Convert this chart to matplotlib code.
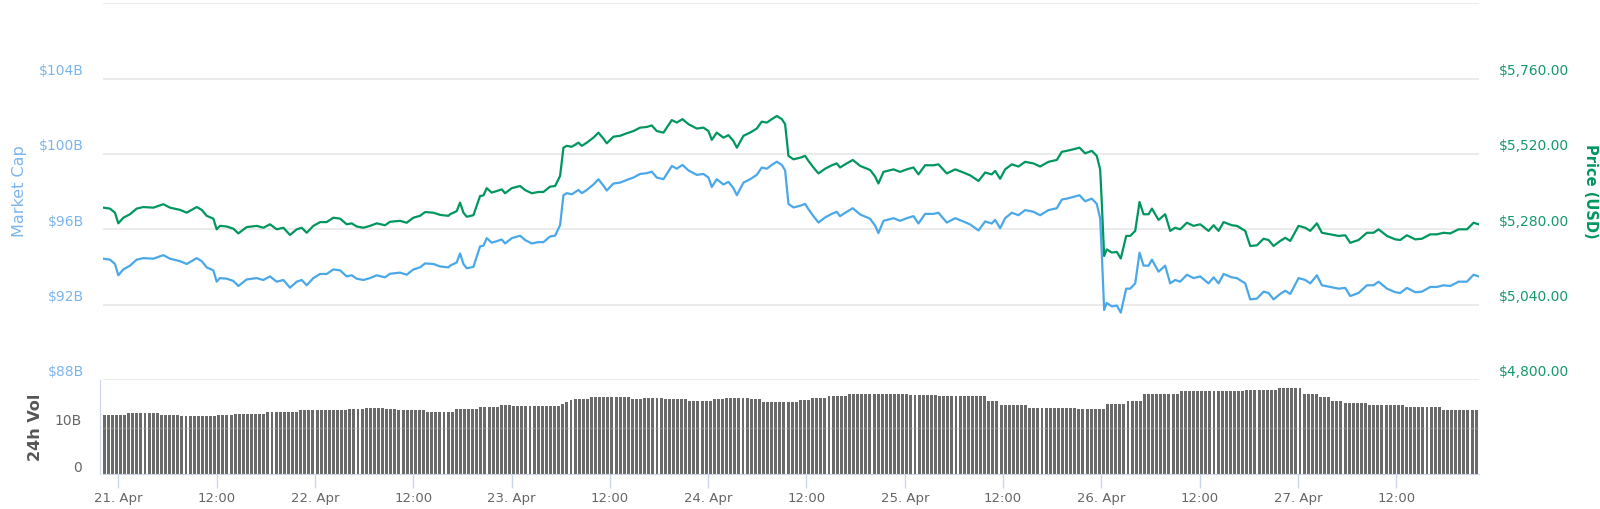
import numpy as np
import matplotlib
matplotlib.use("Agg")
import matplotlib.pyplot as plt
from matplotlib.transforms import ScaledTranslation, blended_transform_factory

# ---------------- data (hours since 21 Apr 00:00) ----------------
price_hours = [
    -1.84, -1.03, -0.42, -0.01, 0.60, 1.42, 2.23, 3.04, 4.27, 5.49, 6.30, 7.52, 8.34, 9.56, 10.17,
    10.78, 11.59, 12.00, 12.40, 13.22, 14.03, 14.64, 15.66, 16.88, 17.70, 18.51, 19.32, 20.14, 20.95,
    21.77, 22.38, 22.99, 23.80, 24.62, 25.43, 26.24, 27.06, 27.87, 28.48, 29.09, 29.90, 30.72, 31.53,
    32.55, 33.16, 34.38, 35.20, 36.01, 36.82, 37.44, 38.45, 39.27, 40.29,
    40.49, 41.30, 41.71, 42.12, 42.53, 43.34, 44.15, 44.56, 44.97, 45.58, 46.19, 46.80, 47.21, 48.02,
    49.04, 49.65, 50.46, 51.28, 51.89, 52.70, 53.31, 53.92, 54.33, 54.73, 55.35, 56.16, 56.57, 57.18,
    57.99, 58.60, 59.21, 59.62, 60.43, 61.25, 62.06, 62.88, 63.69, 64.50, 65.11, 65.72, 66.54, 66.95,
    67.56, 68.17, 68.86, 69.59, 70.61, 71.42, 72.03, 72.44, 73.05, 73.86, 74.48, 75.09, 75.50, 76.31,
    77.12, 77.93, 78.54, 79.16, 79.77, 80.38, 80.99, 81.39, 81.80, 82.41,
    83.22, 83.83, 84.24, 84.85, 85.46, 86.27, 87.09, 87.70, 88.10, 88.92, 89.65, 90.55, 91.77, 92.38,
    92.78, 93.40, 94.62, 95.43, 96.24, 97.06, 97.67, 98.48, 99.50, 100.11, 101.13, 102.15, 102.96,
    103.98, 105.00, 105.81, 106.62, 107.03, 107.64, 108.25, 109.07, 109.88, 110.69, 111.71, 112.52,
    113.54, 114.56, 115.17, 115.78, 116.59, 117.33, 118.02, 118.83, 119.44, 119.85, 120.05, 120.34,
    120.66, 121.27, 121.89, 122.37, 123.03,
    123.52, 124.13, 124.66, 125.15, 125.76, 126.17, 126.98, 127.79, 128.40, 129.01, 129.62, 130.44,
    131.25, 132.07, 133.08, 133.70, 134.31, 134.92, 135.93, 136.54, 137.56, 138.17, 138.99, 139.80,
    140.41, 141.02, 141.84, 142.45, 143.06, 144.07, 144.89, 145.50, 146.31, 146.92, 147.94, 148.96,
    149.77, 150.38, 151.40, 152.42, 153.23, 153.84, 154.86, 155.88, 156.49, 157.30, 158.32, 159.13,
    160.15, 160.96, 161.78, 162.59, 163.61, 164.63, 165.44, 166.05,
]

price_usd = [
    5349, 5346, 5333, 5299, 5317, 5328, 5346, 5351, 5349, 5360, 5349, 5342, 5333, 5351, 5342,
    5323, 5314, 5280, 5291, 5289, 5282, 5267, 5287, 5291, 5285, 5296, 5280, 5285, 5262,
    5280, 5285, 5269, 5291, 5303, 5303, 5317, 5314, 5296, 5299, 5289, 5285, 5291, 5299,
    5293, 5304, 5307, 5301, 5317, 5323, 5335, 5333, 5326, 5323,
    5328, 5338, 5365, 5333, 5320, 5325, 5386, 5388, 5411, 5397, 5402, 5407, 5395, 5411,
    5418, 5405, 5395, 5399, 5399, 5416, 5418, 5450, 5540, 5546, 5543, 5556, 5546, 5556,
    5572, 5588, 5569, 5554, 5575, 5578, 5586, 5593, 5604, 5606, 5611, 5593, 5588, 5604,
    5628, 5620, 5631, 5615, 5601, 5604, 5593, 5565, 5588, 5572, 5580, 5561, 5540, 5578,
    5588, 5601, 5623, 5620, 5631, 5641, 5631, 5615, 5514, 5503,
    5508, 5514, 5498, 5477, 5458, 5473, 5484, 5490, 5477, 5490, 5501, 5482, 5469, 5448,
    5426, 5463, 5471, 5463, 5471, 5477, 5455, 5484, 5484, 5487, 5458, 5471, 5463,
    5452, 5434, 5461, 5455, 5466, 5441, 5471, 5487, 5480, 5495, 5490, 5480,
    5495, 5501, 5527, 5530, 5535, 5540, 5522, 5530, 5514, 5471, 5365, 5195,
    5216, 5206, 5208, 5187, 5259,
    5259, 5275, 5367, 5328, 5328, 5346, 5310, 5328, 5275, 5285, 5280, 5301,
    5291, 5296, 5275, 5293, 5275, 5303, 5293, 5291, 5275, 5227, 5229, 5250,
    5246, 5227, 5243, 5253, 5243, 5291, 5285, 5275, 5299, 5269, 5264, 5259,
    5261, 5237, 5246, 5269, 5269, 5280, 5259, 5248, 5246, 5261, 5248, 5250,
    5264, 5264, 5269, 5267, 5280, 5280, 5301, 5296,
]

market_cap_billion = [
    94.44, 94.39, 94.16, 93.56, 93.87, 94.07, 94.39, 94.47, 94.44, 94.63, 94.44, 94.31, 94.16, 94.47, 94.31,
    93.98, 93.82, 93.22, 93.41, 93.38, 93.26, 92.99, 93.34, 93.41, 93.31, 93.50, 93.22, 93.31, 92.90,
    93.22, 93.31, 93.03, 93.41, 93.63, 93.63, 93.87, 93.82, 93.50, 93.56, 93.38, 93.31, 93.41, 93.56,
    93.45, 93.64, 93.70, 93.59, 93.87, 93.98, 94.19, 94.16, 94.03, 93.98,
    94.07, 94.24, 94.72, 94.16, 93.93, 94.01, 95.09, 95.13, 95.53, 95.29, 95.37, 95.46, 95.25, 95.53,
    95.66, 95.43, 95.25, 95.32, 95.32, 95.62, 95.66, 96.22, 97.81, 97.92, 97.86, 98.09, 97.92, 98.09,
    98.38, 98.66, 98.32, 98.06, 98.43, 98.48, 98.62, 98.75, 98.94, 98.98, 99.06, 98.75, 98.66, 98.94,
    99.36, 99.22, 99.42, 99.13, 98.89, 98.94, 98.75, 98.25, 98.66, 98.38, 98.52, 98.18, 97.81, 98.48,
    98.66, 98.89, 99.28, 99.22, 99.42, 99.59, 99.42, 99.13, 97.35, 97.16,
    97.25, 97.35, 97.07, 96.70, 96.36, 96.63, 96.82, 96.93, 96.70, 96.93, 97.12, 96.79, 96.56, 96.19,
    95.80, 96.45, 96.59, 96.45, 96.59, 96.70, 96.31, 96.82, 96.82, 96.88, 96.36, 96.59, 96.45,
    96.26, 95.94, 96.42, 96.31, 96.50, 96.06, 96.59, 96.88, 96.75, 97.02, 96.93, 96.75,
    97.02, 97.12, 97.58, 97.63, 97.72, 97.81, 97.49, 97.63, 97.35, 96.59, 94.72, 91.72,
    92.09, 91.91, 91.95, 91.58, 92.85,
    92.85, 93.13, 94.76, 94.07, 94.07, 94.39, 93.75, 94.07, 93.13, 93.31, 93.22, 93.59,
    93.41, 93.50, 93.13, 93.45, 93.13, 93.63, 93.45, 93.41, 93.13, 92.28, 92.32, 92.69,
    92.62, 92.28, 92.57, 92.74, 92.57, 93.41, 93.31, 93.13, 93.56, 93.03, 92.94, 92.85,
    92.89, 92.46, 92.62, 93.03, 93.03, 93.22, 92.85, 92.66, 92.62, 92.89, 92.66, 92.69,
    92.94, 92.94, 93.03, 92.99, 93.22, 93.22, 93.59, 93.50,
]

# 24h volume (billions), one value every half hour starting 20 Apr 22:15
vol_first_hour = -1.75
vol_step_hours = 0.5
volume_billion = [
    12.9, 12.9, 12.9, 12.9, 12.9, 12.9, 13.2, 13.2, 13.2, 13.2, 13.2, 13.2,
    13.2, 13.2, 12.9, 12.9, 12.9, 12.9, 12.9, 12.5, 12.5, 12.5, 12.5, 12.5,
    12.5, 12.5, 12.5, 12.5, 12.9, 12.9, 12.9, 12.9, 13.1, 13.1, 13.1, 13.1,
    13.1, 13.1, 13.1, 13.1, 13.5, 13.5, 13.5, 13.5, 13.5, 13.5, 13.5, 13.5,
    13.8, 13.8, 13.8, 13.8, 13.8, 13.8, 13.8, 13.8, 13.8, 13.8, 13.8, 13.8,
    14.1, 14.1, 14.1, 14.1, 14.4, 14.4, 14.4, 14.4, 14.4, 14.2, 14.2, 14.2,
    13.9, 13.9, 13.9, 13.9, 13.9, 13.9, 13.9, 13.5, 13.5, 13.5, 13.5, 13.5,
    13.5, 13.5, 14.1, 14.1, 14.1, 14.1, 14.1, 14.1, 14.5, 14.5, 14.5, 14.5,
    14.5, 14.9, 14.9, 14.9, 14.7, 14.7, 14.7, 14.7, 14.7, 14.7, 14.7, 14.7,
    14.7, 14.7, 14.7, 14.7, 15.2, 15.6, 16.0, 16.3, 16.3, 16.3, 16.3, 16.7,
    16.7, 16.7, 16.7, 16.7, 16.7, 16.7, 16.7, 16.7, 16.7, 16.3, 16.3, 16.3,
    16.6, 16.6, 16.6, 16.4, 16.4, 16.2, 16.2, 16.2, 16.2, 16.2, 16.2, 15.9,
    15.9, 15.9, 15.9, 15.9, 15.9, 16.2, 16.2, 16.2, 16.4, 16.4, 16.4, 16.4,
    16.4, 16.4, 16.3, 16.3, 16.3, 15.6, 15.6, 15.6, 15.6, 15.6, 15.6, 15.6,
    15.6, 15.6, 16.1, 16.1, 16.1, 16.4, 16.4, 16.4, 16.4, 17.0, 17.0, 17.0,
    17.0, 17.0, 17.4, 17.4, 17.4, 17.4, 17.4, 17.4, 17.4, 17.4, 17.4, 17.4,
    17.4, 17.4, 17.4, 17.4, 17.4, 17.2, 17.2, 17.2, 17.2, 17.2, 17.2, 17.2,
    16.9, 16.9, 16.9, 16.9, 16.9, 16.9, 16.9, 16.9, 16.9, 16.9, 16.9, 16.9,
    15.9, 15.9, 15.9, 15.0, 15.0, 15.0, 15.0, 15.0, 15.0, 15.0, 14.4, 14.4,
    14.4, 14.4, 14.4, 14.4, 14.4, 14.4, 14.4, 14.4, 14.4, 14.4, 14.1, 14.1,
    14.1, 14.1, 14.1, 14.1, 14.1, 15.2, 15.2, 15.2, 15.2, 15.2, 15.9, 15.9,
    15.9, 15.9, 17.4, 17.4, 17.4, 17.4, 17.4, 17.4, 17.4, 17.4, 17.4, 18.0,
    18.0, 18.0, 18.0, 18.0, 18.0, 18.0, 18.0, 18.0, 18.0, 18.0, 18.1, 18.1,
    18.1, 18.1, 18.1, 18.3, 18.3, 18.3, 18.3, 18.3, 18.3, 18.3, 18.3, 18.6,
    18.6, 18.6, 18.6, 18.6, 18.6, 17.4, 17.4, 17.4, 17.4, 16.7, 16.7, 16.7,
    15.9, 15.9, 15.9, 15.4, 15.4, 15.4, 15.4, 15.4, 15.4, 15.0, 15.0, 15.0,
    15.0, 15.0, 15.0, 15.0, 15.0, 15.0, 14.5, 14.5, 14.5, 14.5, 14.5, 14.5,
    14.5, 14.5, 14.5, 13.8, 13.8, 13.8, 13.8, 13.8, 13.8, 13.8, 13.8, 13.8,
    13.8,
]

x_tick_hours = [0, 12, 24, 36, 48, 60, 72, 84, 96, 108, 120, 132, 144, 156]
x_tick_labels = ["21. Apr", "12:00", "22. Apr", "12:00", "23. Apr", "12:00", "24. Apr",
                 "12:00", "25. Apr", "12:00", "26. Apr", "12:00", "27. Apr", "12:00"]
mcap_ticks = [88, 92, 96, 100, 104, 108]
mcap_tick_labels = ["$88B", "$92B", "$96B", "$100B", "$104B", ""]
price_ticks = [4800, 5040, 5280, 5520, 5760, 6000]
price_tick_labels = ["$4,800.00", "$5,040.00", "$5,280.00", "$5,520.00", "$5,760.00", ""]
vol_ticks = [0, 10, 20]
vol_tick_labels = ["0", "10B", ""]

# ---------------- style ----------------
W, H, DPI = 1600, 509, 100
BLUE_LINE = "#4aa8e8"
BLUE_TEXT = "#7cb5ec"
GREEN_LINE = "#00975f"
GREEN_TEXT = "#16996a"
GRID = "#e6e6e6"
AXIS = "#ccd6eb"
GREY_TEXT = "#666666"

plt.rcParams["font.family"] = ["DejaVu Sans"]

fig = plt.figure(figsize=(W / DPI, H / DPI), dpi=DPI)
x0, x1 = 103, 1479
main_top, main_bot = 3.3, 380
vol_bot = 474
ax = fig.add_axes([x0 / W, 1 - main_bot / H, (x1 - x0) / W, (main_bot - main_top) / H])
axv = fig.add_axes([x0 / W, 1 - vol_bot / H, (x1 - x0) / W, (vol_bot - main_bot) / H])
ax2 = ax.twinx()

xlim = (-1.88, 166.1)
for a in (ax, ax2, axv):
    a.set_xlim(*xlim)
    a.patch.set_alpha(0)

# main pane
ax.set_ylim(88, 108)
ax2.set_ylim(4800, 6000)
for y in mcap_ticks:
    ax.axhline(y, color=GRID, lw=1.1, zorder=0)
ax.plot(price_hours, market_cap_billion, color=BLUE_LINE, lw=1.6, zorder=3,
        solid_joinstyle="round")
ax2.plot(price_hours, price_usd, color=GREEN_LINE, lw=1.6, zorder=3, solid_joinstyle="round")

for a in (ax, ax2):
    for s in a.spines.values():
        s.set_visible(False)
    a.set_xticks([])
    a.set_yticks([])

tl = blended_transform_factory(ax.transAxes, ax.transData)
for v, t in zip(mcap_ticks, mcap_tick_labels):
    ax.text(0, v, t, transform=tl + ScaledTranslation(-19 / DPI, 7.5 / DPI, fig.dpi_scale_trans),
            ha="right", va="center", fontsize=10, color=BLUE_TEXT)
tr = blended_transform_factory(ax2.transAxes, ax2.transData)
for v, t in zip(price_ticks, price_tick_labels):
    ax2.text(1, v, t, transform=tr + ScaledTranslation(20 / DPI, 7.5 / DPI, fig.dpi_scale_trans),
             ha="left", va="center", fontsize=10, color=GREEN_TEXT)

# volume pane
vol_hours = vol_first_hour + vol_step_hours * np.arange(len(volume_billion))
axv.set_ylim(0, 20.4)
axv.bar(vol_hours, volume_billion, width=0.36, color="#6a6a6a", linewidth=0, zorder=2)
axv.axhline(10, color="#bbbbbb", lw=1, alpha=0.35, zorder=3)
for name in ("top", "right"):
    axv.spines[name].set_visible(False)
axv.spines["left"].set_color(AXIS)
axv.spines["left"].set_position(("outward", 2))
axv.spines["bottom"].set_color(AXIS)
axv.set_yticks([])
tv = blended_transform_factory(axv.transAxes, axv.transData)
for v, t in zip(vol_ticks, vol_tick_labels):
    axv.text(0, v, t, transform=tv + ScaledTranslation(-21 / DPI, 6.5 / DPI, fig.dpi_scale_trans),
             ha="right", va="center", fontsize=10, color=GREY_TEXT)
axv.set_xticks(x_tick_hours)
axv.set_xticklabels(x_tick_labels)
axv.tick_params(axis="x", length=10, width=1, color=AXIS, labelcolor=GREY_TEXT,
                labelsize=9.5, pad=3)

# axis titles
fig.text(20 / W, 1 - 191.6 / H, "Market Cap", rotation=90, color=BLUE_TEXT, fontsize=11.5,
         ha="center", va="center")
fig.text(1590 / W, 1 - 191.6 / H, "Price (USD)", rotation=270, color=GREEN_LINE, fontsize=10.5,
         fontweight="bold", ha="center", va="center")
fig.text(35 / W, 1 - 427 / H, "24h Vol", rotation=90, color="#555555", fontsize=11.5,
         fontweight="bold", ha="center", va="center")

fig.savefig("out.png", dpi=DPI, facecolor="white")
